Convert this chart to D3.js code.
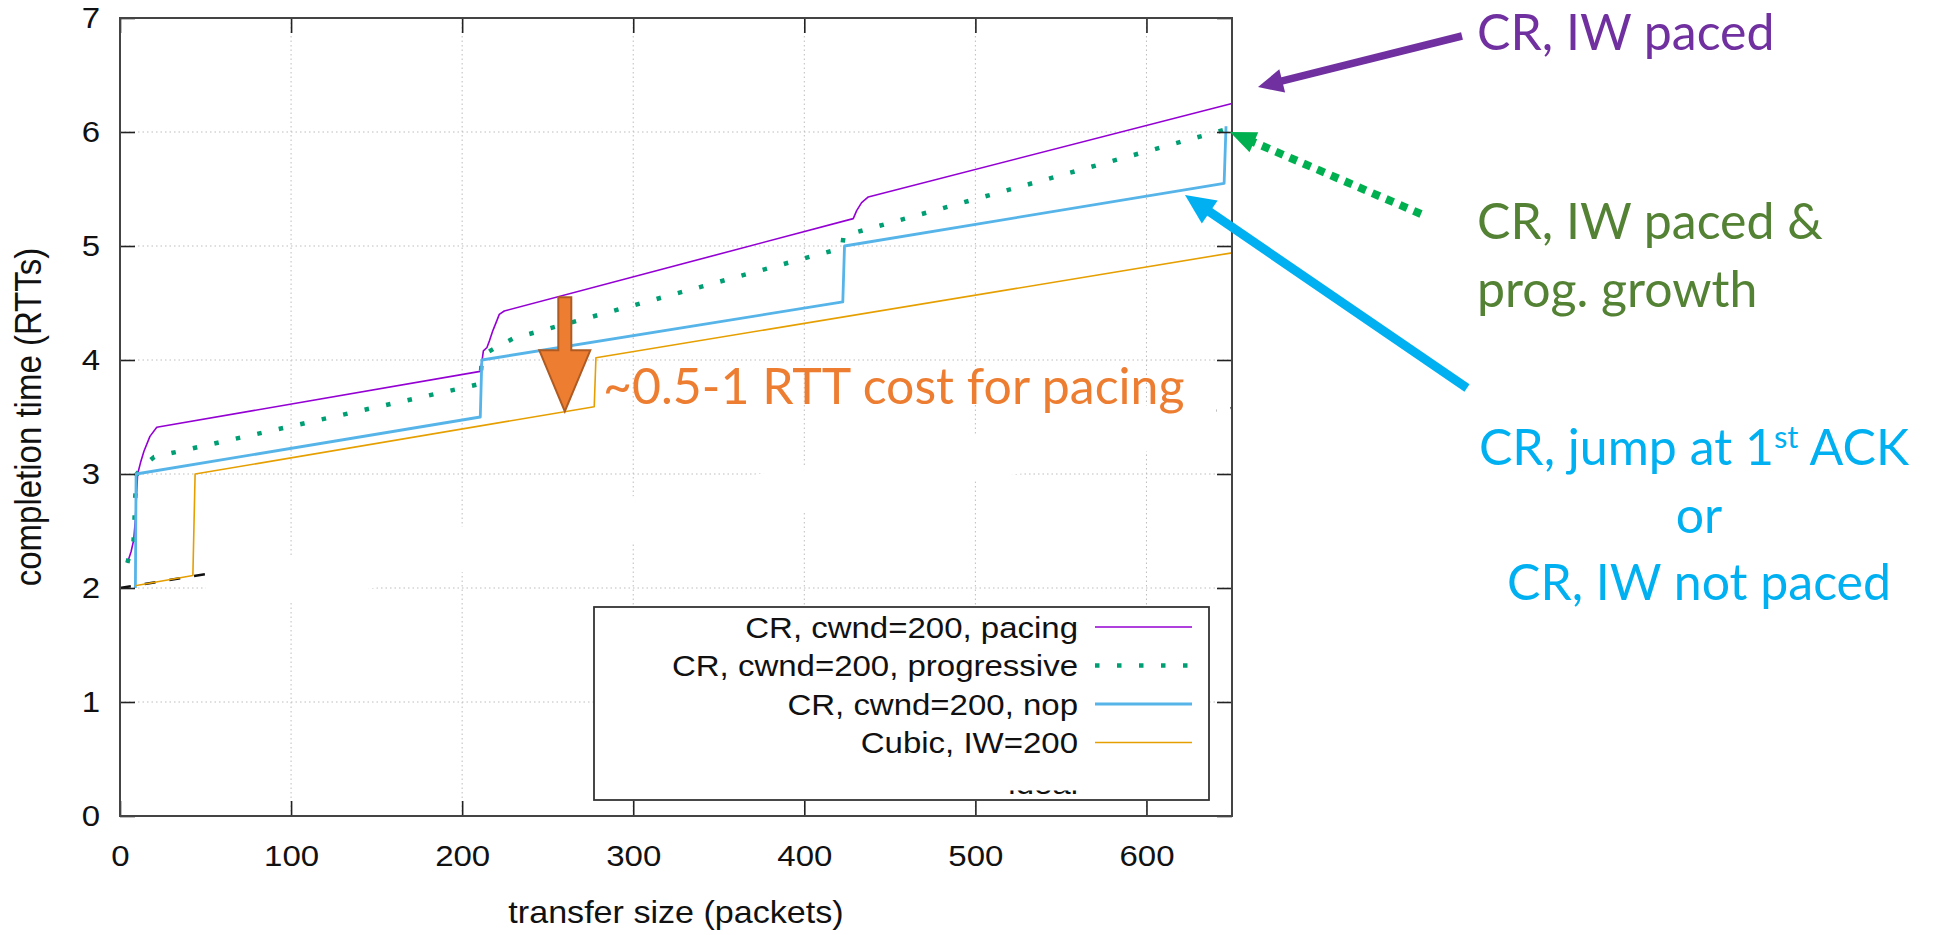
<!DOCTYPE html>
<html><head><meta charset="utf-8">
<script src="https://cdn.jsdelivr.net/npm/d3@7"></script>
<style>html,body{margin:0;padding:0;background:#fff;overflow:hidden}</style>
</head><body>
<svg id="c" width="1939" height="935"></svg>
<script>
// ---------------- data ----------------
const xTicks = [0, 100, 200, 300, 400, 500, 600];
const yTicks = [0, 1, 2, 3, 4, 5, 6, 7];
const legendLabels = ["CR, cwnd=200, pacing", "CR, cwnd=200, progressive", "CR, cwnd=200, nop", "Cubic, IW=200"];
const hiddenLabel = "ideal";

// transfer size (packets), completion time (RTTs)
const pacing = [[4.3,2.22],[6.5,2.32],[8.0,2.42],[9.0,2.6],[9.6,2.8],[10.3,3.0],[12,3.1],[14,3.2],[17.5,3.33],[21.5,3.41],
  [210.6,3.90],[211.5,3.98],[212.4,4.08],[214.5,4.11],[216,4.17],[218,4.26],[220.4,4.35],[221.7,4.40],[224.6,4.43],
  [428.6,5.24],[430.6,5.31],[433.5,5.38],[437.4,5.43],[650,6.25]];
const progressive = [[4.3,2.22],[7.9,2.41],[8.5,2.61],[8.9,2.80],[9.8,3.0],[15,3.09],[20,3.15],[210.5,3.79],
  [211.5,4.0],[214,4.06],[221,4.12],[230,4.19],[411.7,4.94],[422,4.98],[423,5.09],[648,6.03]];
const nop = [[9,2.0],[9.4,3.0],[210.6,3.50],[211.5,4.0],[422.5,4.51],[423.5,5.0],[645.4,5.55],[646.5,6.05]];
const cubic = [[8.8,2.02],[42.6,2.11],[43.9,3.0],[277.2,3.59],[278.2,4.02],[650,4.94]];
const ideal = [[0,2.0],[650,3.58]];
// white patch covering the ideal line in the original slide (data units)
const maskBand = [[50,2.14],[641,3.71],[641,3.31],[50,1.74]];
// orange "cost for pacing" arrow: x, from y, to y
const costArrow = {x: 260, y0: 4.55, y1: 3.55};

// ---------------- layout ----------------
const svg = d3.select("#c");
const PL = 120, PR = 1232, PT = 18, PB = 816;
const xs = d3.scaleLinear().domain([0, 650]).range([PL, PR]);
const ys = d3.scaleLinear().domain([0, 7]).range([PB, PT]);
const lineGen = d3.line().x(d => xs(d[0])).y(d => ys(d[1]));
const STRETCH = "scale(1.1,1)";
const chartFont = "'Liberation Sans', Arial, sans-serif";
const noteFont = "Lato, 'Open Sans', sans-serif";

// grid
const grid = svg.append("g").attr("stroke", "#bdbdbd").attr("stroke-width", 1).attr("stroke-dasharray", "1.5 3");
grid.selectAll(".gv").data(xTicks.filter(d => d > 0)).join("line").attr("class", "gv")
  .attr("x1", d => xs(d)).attr("x2", d => xs(d)).attr("y1", PB).attr("y2", PT);
grid.selectAll(".gh").data(yTicks.filter(d => d > 0 && d < 7)).join("line").attr("class", "gh")
  .attr("x1", PL).attr("x2", PR).attr("y1", d => ys(d)).attr("y2", d => ys(d));

// ideal (dashed black)
svg.append("path").datum(ideal).attr("d", lineGen).attr("fill", "none")
  .attr("stroke", "#111").attr("stroke-width", 2.4).attr("stroke-dasharray", "11 14");
// white patch
svg.append("path").datum(maskBand).attr("d", d => lineGen(d) + "Z").attr("fill", "#fff");

// series
const series = [
  {data: pacing, color: "#9400D3", w: 1.6, dash: null},
  {data: progressive, color: "#009E73", w: 4.5, dash: "4.5 17.5"},
  {data: nop, color: "#56B4E9", w: 2.8, dash: null},
  {data: cubic, color: "#E69F00", w: 1.6, dash: null}
];
series.forEach(s => {
  svg.append("path").datum(s.data).attr("d", lineGen).attr("fill", "none")
    .attr("stroke", s.color).attr("stroke-width", s.w)
    .attr("stroke-dasharray", s.dash).attr("stroke-linejoin", "round");
});

// axes (inward ticks, mirrored)
const axG = svg.append("g").attr("font-family", chartFont);
const axL = axG.append("g").attr("transform", `translate(${PL},0)`)
  .call(d3.axisLeft(ys).tickValues(yTicks).tickSize(-15).tickPadding(18).tickFormat(d3.format("d")));
const axB = axG.append("g").attr("transform", `translate(0,${PB})`)
  .call(d3.axisBottom(xs).tickValues(xTicks).tickSize(-15).tickPadding(29).tickFormat(d3.format("d")));
const axR = axG.append("g").attr("transform", `translate(${PR},0)`)
  .call(d3.axisRight(ys).tickValues(yTicks).tickSize(-15).tickFormat(""));
const axT = axG.append("g").attr("transform", `translate(0,${PT})`)
  .call(d3.axisTop(xs).tickValues(xTicks).tickSize(-15).tickFormat(""));
[axL, axB, axR, axT].forEach(g => {
  g.select(".domain").remove();
  g.selectAll(".tick line").attr("stroke", "#222").attr("stroke-width", 1.6);
  g.selectAll(".tick text").attr("font-size", 30).attr("fill", "#111").attr("font-family", chartFont)
    .attr("transform", STRETCH);
});
svg.append("rect").attr("x", PL).attr("y", PT).attr("width", PR - PL).attr("height", PB - PT)
  .attr("fill", "none").attr("stroke", "#444").attr("stroke-width", 2);

// axis titles
svg.append("text").attr("transform", `translate(41,417) ${STRETCH} rotate(-90)`)
  .attr("text-anchor", "middle").attr("font-family", chartFont).attr("font-size", 33).attr("fill", "#111")
  .text("completion time (RTTs)");
svg.append("text").attr("transform", `translate(676,923) ${STRETCH}`)
  .attr("text-anchor", "middle").attr("font-family", chartFont).attr("font-size", 31).attr("fill", "#111")
  .text("transfer size (packets)");

// legend
const lg = svg.append("g");
lg.append("rect").attr("x", 594).attr("y", 607).attr("width", 615).attr("height", 193)
  .attr("fill", "#fff").attr("stroke", "#333").attr("stroke-width", 1.8);
const rowY = i => 627 + i * 38.5;
legendLabels.forEach((lab, i) => {
  const s = series[i];
  lg.append("text").attr("transform", `translate(1078,${rowY(i) + 10.5}) ${STRETCH}`)
    .attr("text-anchor", "end").attr("font-family", chartFont).attr("font-size", 30).attr("fill", "#111").text(lab);
  lg.append("line").attr("x1", 1095).attr("x2", 1192).attr("y1", rowY(i)).attr("y2", rowY(i))
    .attr("stroke", s.color).attr("stroke-width", s.w).attr("stroke-dasharray", s.dash);
});
// partially hidden 5th entry (only the bottom sliver shows in the original)
svg.append("clipPath").attr("id", "cut").append("rect").attr("x", 990).attr("y", 790.5).attr("width", 120).attr("height", 3.5);
lg.append("g").attr("clip-path", "url(#cut)").append("text")
  .attr("transform", `translate(1078,794) ${STRETCH}`)
  .attr("text-anchor", "end").attr("font-family", chartFont).attr("font-size", 30).attr("fill", "#111").text(hiddenLabel);

// ---------------- annotations ----------------
const an = svg.append("g");
function arrow(x1, y1, x2, y2, color, w, hl, hw, dash) {
  const dx = x2 - x1, dy = y2 - y1, len = Math.hypot(dx, dy), ux = dx / len, uy = dy / len;
  const bx = x2 - ux * hl, by = y2 - uy * hl;
  an.append("line").attr("x1", x1).attr("y1", y1).attr("x2", bx + ux * 2).attr("y2", by + uy * 2)
    .attr("stroke", color).attr("stroke-width", w).attr("stroke-dasharray", dash || null);
  an.append("polygon").attr("fill", color)
    .attr("points", [[x2, y2], [bx - uy * hw, by + ux * hw], [bx + uy * hw, by - ux * hw]].map(p => p.join(",")).join(" "));
}
arrow(1462, 36, 1258, 87, "#7030A0", 7.5, 25, 12);
arrow(1421, 214, 1230, 132, "#00B050", 8, 26, 11, "8 7");
arrow(1467, 388, 1185, 195, "#00B0F0", 9, 30, 14);

// orange block arrow
{
  const cx = xs(costArrow.x), ty = ys(costArrow.y0), tip = ys(costArrow.y1);
  const sw = 6.5, hw = 25.5, headTop = tip - 61;
  an.append("polygon").attr("fill", "#ED7D31").attr("stroke", "#AE5A21").attr("stroke-width", 2)
    .attr("points", [[cx - sw, ty], [cx + sw, ty], [cx + sw, headTop], [cx + hw, headTop], [cx, tip],
      [cx - hw, headTop], [cx - sw, headTop]].map(p => p.join(",")).join(" "));
}

const note = (tx, ty, col, str, anchor) => an.append("text").attr("x", tx).attr("y", ty)
  .attr("font-family", noteFont).attr("font-size", 50).attr("fill", col).attr("text-anchor", anchor || "start").text(str);
note(1477, 50, "#7030A0", "CR, IW paced");
note(1477, 239, "#548235", "CR, IW paced &");
note(1477, 307, "#548235", "prog. growth");
note(603, 404, "#ED7D31", "~0.5-1 RTT cost for pacing");
{
  const t = an.append("text").attr("x", 1694).attr("y", 465).attr("font-family", noteFont).attr("font-size", 50)
    .attr("fill", "#00B0F0").attr("text-anchor", "middle");
  t.append("tspan").text("CR, jump at 1");
  t.append("tspan").attr("font-size", 31).attr("dy", -17).text("st");
  t.append("tspan").attr("dy", 17).text(" ACK");
}
note(1699, 533, "#00B0F0", "or", "middle");
note(1699, 600, "#00B0F0", "CR, IW not paced", "middle");
</script>
</body></html>
